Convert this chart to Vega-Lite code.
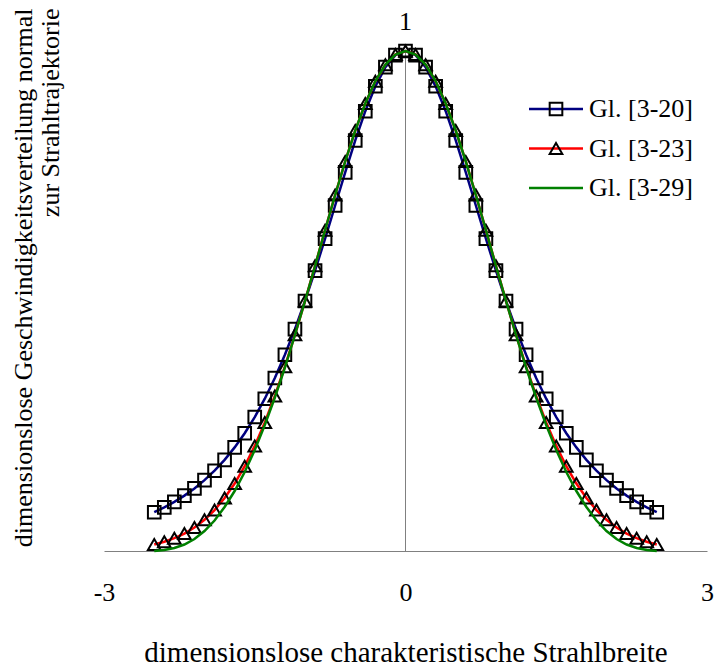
{
  "$schema": "https://vega.github.io/schema/vega-lite/v6.json",
  "width": 603,
  "height": 500,
  "autosize": {"type": "none"},
  "padding": {"left": 104, "top": 51, "right": 10, "bottom": 115},
  "background": "white",
  "config": {"view": {"stroke": null}, "font": "Liberation Serif"},
  "data": {"values": [
    {"x":-2.5,"y":0.0776,"s":"Gl. [3-20]"},{"x":-2.4,"y":0.0872,"s":"Gl. [3-20]"},{"x":-2.3,"y":0.0982,"s":"Gl. [3-20]"},{"x":-2.2,"y":0.1108,"s":"Gl. [3-20]"},{"x":-2.1,"y":0.1252,"s":"Gl. [3-20]"},{"x":-2.0,"y":0.1417,"s":"Gl. [3-20]"},{"x":-1.9,"y":0.1606,"s":"Gl. [3-20]"},{"x":-1.8,"y":0.1823,"s":"Gl. [3-20]"},{"x":-1.7,"y":0.2072,"s":"Gl. [3-20]"},{"x":-1.6,"y":0.2356,"s":"Gl. [3-20]"},{"x":-1.5,"y":0.2679,"s":"Gl. [3-20]"},{"x":-1.4,"y":0.3046,"s":"Gl. [3-20]"},{"x":-1.3,"y":0.3460,"s":"Gl. [3-20]"},{"x":-1.2,"y":0.3924,"s":"Gl. [3-20]"},{"x":-1.1,"y":0.4437,"s":"Gl. [3-20]"},{"x":-1.0,"y":0.5,"s":"Gl. [3-20]"},{"x":-0.9,"y":0.5607,"s":"Gl. [3-20]"},{"x":-0.8,"y":0.6248,"s":"Gl. [3-20]"},{"x":-0.7,"y":0.6910,"s":"Gl. [3-20]"},{"x":-0.6,"y":0.7573,"s":"Gl. [3-20]"},{"x":-0.5,"y":0.8211,"s":"Gl. [3-20]"},{"x":-0.4,"y":0.8796,"s":"Gl. [3-20]"},{"x":-0.3,"y":0.9294,"s":"Gl. [3-20]"},{"x":-0.2,"y":0.9677,"s":"Gl. [3-20]"},{"x":-0.1,"y":0.9918,"s":"Gl. [3-20]"},{"x":0,"y":1,"s":"Gl. [3-20]"},
    {"x":0.1,"y":0.9918,"s":"Gl. [3-20]"},{"x":0.2,"y":0.9677,"s":"Gl. [3-20]"},{"x":0.3,"y":0.9294,"s":"Gl. [3-20]"},{"x":0.4,"y":0.8796,"s":"Gl. [3-20]"},{"x":0.5,"y":0.8211,"s":"Gl. [3-20]"},{"x":0.6,"y":0.7573,"s":"Gl. [3-20]"},{"x":0.7,"y":0.6910,"s":"Gl. [3-20]"},{"x":0.8,"y":0.6248,"s":"Gl. [3-20]"},{"x":0.9,"y":0.5607,"s":"Gl. [3-20]"},{"x":1.0,"y":0.5,"s":"Gl. [3-20]"},{"x":1.1,"y":0.4437,"s":"Gl. [3-20]"},{"x":1.2,"y":0.3924,"s":"Gl. [3-20]"},{"x":1.3,"y":0.3460,"s":"Gl. [3-20]"},{"x":1.4,"y":0.3046,"s":"Gl. [3-20]"},{"x":1.5,"y":0.2679,"s":"Gl. [3-20]"},{"x":1.6,"y":0.2356,"s":"Gl. [3-20]"},{"x":1.7,"y":0.2072,"s":"Gl. [3-20]"},{"x":1.8,"y":0.1823,"s":"Gl. [3-20]"},{"x":1.9,"y":0.1606,"s":"Gl. [3-20]"},{"x":2.0,"y":0.1417,"s":"Gl. [3-20]"},{"x":2.1,"y":0.1252,"s":"Gl. [3-20]"},{"x":2.2,"y":0.1108,"s":"Gl. [3-20]"},{"x":2.3,"y":0.0982,"s":"Gl. [3-20]"},{"x":2.4,"y":0.0872,"s":"Gl. [3-20]"},{"x":2.5,"y":0.0776,"s":"Gl. [3-20]"},
    {"x":-2.5,"y":0.0131,"s":"Gl. [3-23]"},{"x":-2.4,"y":0.0185,"s":"Gl. [3-23]"},{"x":-2.3,"y":0.0256,"s":"Gl. [3-23]"},{"x":-2.2,"y":0.0349,"s":"Gl. [3-23]"},{"x":-2.1,"y":0.0470,"s":"Gl. [3-23]"},{"x":-2.0,"y":0.0625,"s":"Gl. [3-23]"},{"x":-1.9,"y":0.0819,"s":"Gl. [3-23]"},{"x":-1.8,"y":0.1059,"s":"Gl. [3-23]"},{"x":-1.7,"y":0.1349,"s":"Gl. [3-23]"},{"x":-1.6,"y":0.1696,"s":"Gl. [3-23]"},{"x":-1.5,"y":0.2102,"s":"Gl. [3-23]"},{"x":-1.4,"y":0.2571,"s":"Gl. [3-23]"},{"x":-1.3,"y":0.3100,"s":"Gl. [3-23]"},{"x":-1.2,"y":0.3686,"s":"Gl. [3-23]"},{"x":-1.1,"y":0.4323,"s":"Gl. [3-23]"},{"x":-1.0,"y":0.5,"s":"Gl. [3-23]"},{"x":-0.9,"y":0.5704,"s":"Gl. [3-23]"},{"x":-0.8,"y":0.6417,"s":"Gl. [3-23]"},{"x":-0.7,"y":0.7120,"s":"Gl. [3-23]"},{"x":-0.6,"y":0.7792,"s":"Gl. [3-23]"},{"x":-0.5,"y":0.8409,"s":"Gl. [3-23]"},{"x":-0.4,"y":0.8950,"s":"Gl. [3-23]"},{"x":-0.3,"y":0.9395,"s":"Gl. [3-23]"},{"x":-0.2,"y":0.9727,"s":"Gl. [3-23]"},{"x":-0.1,"y":0.9931,"s":"Gl. [3-23]"},{"x":0,"y":1,"s":"Gl. [3-23]"},
    {"x":0.1,"y":0.9931,"s":"Gl. [3-23]"},{"x":0.2,"y":0.9727,"s":"Gl. [3-23]"},{"x":0.3,"y":0.9395,"s":"Gl. [3-23]"},{"x":0.4,"y":0.8950,"s":"Gl. [3-23]"},{"x":0.5,"y":0.8409,"s":"Gl. [3-23]"},{"x":0.6,"y":0.7792,"s":"Gl. [3-23]"},{"x":0.7,"y":0.7120,"s":"Gl. [3-23]"},{"x":0.8,"y":0.6417,"s":"Gl. [3-23]"},{"x":0.9,"y":0.5704,"s":"Gl. [3-23]"},{"x":1.0,"y":0.5,"s":"Gl. [3-23]"},{"x":1.1,"y":0.4323,"s":"Gl. [3-23]"},{"x":1.2,"y":0.3686,"s":"Gl. [3-23]"},{"x":1.3,"y":0.3100,"s":"Gl. [3-23]"},{"x":1.4,"y":0.2571,"s":"Gl. [3-23]"},{"x":1.5,"y":0.2102,"s":"Gl. [3-23]"},{"x":1.6,"y":0.1696,"s":"Gl. [3-23]"},{"x":1.7,"y":0.1349,"s":"Gl. [3-23]"},{"x":1.8,"y":0.1059,"s":"Gl. [3-23]"},{"x":1.9,"y":0.0819,"s":"Gl. [3-23]"},{"x":2.0,"y":0.0625,"s":"Gl. [3-23]"},{"x":2.1,"y":0.0470,"s":"Gl. [3-23]"},{"x":2.2,"y":0.0349,"s":"Gl. [3-23]"},{"x":2.3,"y":0.0256,"s":"Gl. [3-23]"},{"x":2.4,"y":0.0185,"s":"Gl. [3-23]"},{"x":2.5,"y":0.0131,"s":"Gl. [3-23]"},
    {"x":-2.5,"y":0.0,"s":"Gl. [3-29]"},{"x":-2.4,"y":0.002,"s":"Gl. [3-29]"},{"x":-2.3,"y":0.006,"s":"Gl. [3-29]"},{"x":-2.2,"y":0.013,"s":"Gl. [3-29]"},{"x":-2.1,"y":0.024,"s":"Gl. [3-29]"},{"x":-2.0,"y":0.040,"s":"Gl. [3-29]"},{"x":-1.9,"y":0.061,"s":"Gl. [3-29]"},{"x":-1.8,"y":0.088,"s":"Gl. [3-29]"},{"x":-1.7,"y":0.120,"s":"Gl. [3-29]"},{"x":-1.6,"y":0.158,"s":"Gl. [3-29]"},{"x":-1.5,"y":0.202,"s":"Gl. [3-29]"},{"x":-1.4,"y":0.252,"s":"Gl. [3-29]"},{"x":-1.3,"y":0.307,"s":"Gl. [3-29]"},{"x":-1.2,"y":0.367,"s":"Gl. [3-29]"},{"x":-1.1,"y":0.432,"s":"Gl. [3-29]"},{"x":-1.0,"y":0.5,"s":"Gl. [3-29]"},{"x":-0.9,"y":0.570,"s":"Gl. [3-29]"},{"x":-0.8,"y":0.642,"s":"Gl. [3-29]"},{"x":-0.7,"y":0.712,"s":"Gl. [3-29]"},{"x":-0.6,"y":0.779,"s":"Gl. [3-29]"},{"x":-0.5,"y":0.841,"s":"Gl. [3-29]"},{"x":-0.4,"y":0.895,"s":"Gl. [3-29]"},{"x":-0.3,"y":0.940,"s":"Gl. [3-29]"},{"x":-0.2,"y":0.973,"s":"Gl. [3-29]"},{"x":-0.1,"y":0.993,"s":"Gl. [3-29]"},{"x":0,"y":1,"s":"Gl. [3-29]"},
    {"x":0.1,"y":0.993,"s":"Gl. [3-29]"},{"x":0.2,"y":0.973,"s":"Gl. [3-29]"},{"x":0.3,"y":0.940,"s":"Gl. [3-29]"},{"x":0.4,"y":0.895,"s":"Gl. [3-29]"},{"x":0.5,"y":0.841,"s":"Gl. [3-29]"},{"x":0.6,"y":0.779,"s":"Gl. [3-29]"},{"x":0.7,"y":0.712,"s":"Gl. [3-29]"},{"x":0.8,"y":0.642,"s":"Gl. [3-29]"},{"x":0.9,"y":0.570,"s":"Gl. [3-29]"},{"x":1.0,"y":0.5,"s":"Gl. [3-29]"},{"x":1.1,"y":0.432,"s":"Gl. [3-29]"},{"x":1.2,"y":0.367,"s":"Gl. [3-29]"},{"x":1.3,"y":0.307,"s":"Gl. [3-29]"},{"x":1.4,"y":0.252,"s":"Gl. [3-29]"},{"x":1.5,"y":0.202,"s":"Gl. [3-29]"},{"x":1.6,"y":0.158,"s":"Gl. [3-29]"},{"x":1.7,"y":0.120,"s":"Gl. [3-29]"},{"x":1.8,"y":0.088,"s":"Gl. [3-29]"},{"x":1.9,"y":0.061,"s":"Gl. [3-29]"},{"x":2.0,"y":0.040,"s":"Gl. [3-29]"},{"x":2.1,"y":0.024,"s":"Gl. [3-29]"},{"x":2.2,"y":0.013,"s":"Gl. [3-29]"},{"x":2.3,"y":0.006,"s":"Gl. [3-29]"},{"x":2.4,"y":0.002,"s":"Gl. [3-29]"},{"x":2.5,"y":0.0,"s":"Gl. [3-29]"}
  ]},
  "layer": [
    {"data": {"values": [{}]}, "mark": {"type": "rule", "color": "#808080", "strokeWidth": 1},
     "encoding": {
       "x": {"datum": 0, "type": "quantitative",
         "scale": {"domain": [-3, 3], "nice": false, "zero": false},
         "axis": {"values": [-3, 0, 3], "labelExpr": "toString(datum.value)", "ticks": false, "tickSize": 0, "grid": false,
           "domainColor": "#808080", "domainWidth": 1, "labelFontSize": 26, "labelColor": "black", "labelPadding": 28,
           "labelFlush": false, "title": "dimensionslose charakteristische Strahlbreite", "titleFontSize": 29,
           "titleFontWeight": "normal", "titleColor": "black", "titlePadding": 33}},
       "y": {"datum": 0, "type": "quantitative",
         "scale": {"domain": [0, 1], "nice": false},
         "axis": {"labels": false, "ticks": false, "domain": false, "grid": false, "minExtent": 0,
           "title": ["dimensionslose Geschwindigkeitsverteilung normal", "zur Strahltrajektorie"],
           "titleFontSize": 26, "titleFontWeight": "normal", "titleColor": "black", "titleAnchor": "end",
           "titleAlign": "right", "titleBaseline": "bottom", "titleX": -68, "titleY": -43, "titleLineHeight": 27}},
       "y2": {"datum": 1}}},
    {"data": {"values": [{}]}, "mark": {"type": "text", "fontSize": 26, "dy": -29, "align": "center", "baseline": "middle", "color": "black"},
     "encoding": {"x": {"datum": 0, "type": "quantitative"}, "y": {"datum": 1, "type": "quantitative"}, "text": {"value": "1"}}},
    {"transform": [{"filter": {"field": "s", "equal": "Gl. [3-20]"}}],
     "mark": {"type": "line", "strokeWidth": 2.5},
     "encoding": {"x": {"field": "x", "type": "quantitative"}, "y": {"field": "y", "type": "quantitative"},
       "color": {"field": "s", "type": "nominal",
       "scale": {"domain": ["Gl. [3-20]", "Gl. [3-23]", "Gl. [3-29]"], "range": ["#000080", "#ff0000", "#008000"]},
       "legend": {"orient": "none", "legendX": 439, "legendY": 45, "title": null, "padding": 0, "symbolType": "M-4.5,0H4.5",
         "symbolSize": 144, "symbolStrokeWidth": 2.5, "labelFontSize": 26, "labelColor": "black", "labelOffset": 20, "rowPadding": 13.5}}}},
    {"transform": [{"filter": {"field": "s", "equal": "Gl. [3-20]"}}],
     "mark": {"type": "point", "filled": false, "color": "black", "strokeWidth": 2, "size": 160, "opacity": 1},
     "encoding": {"x": {"field": "x", "type": "quantitative"}, "y": {"field": "y", "type": "quantitative"},
       "shape": {"field": "s", "type": "nominal",
       "scale": {"domain": ["Gl. [3-20]", "Gl. [3-23]"], "range": ["square", "triangle-up"]},
       "legend": {"orient": "none", "legendX": 439, "legendY": 45, "title": null, "padding": 0, "symbolSize": 160,
         "symbolStrokeWidth": 2, "symbolStrokeColor": "black", "symbolFillColor": "transparent", "labelFontSize": 26,
         "labelColor": "transparent", "labelOffset": 20, "rowPadding": 13.5}}}},
    {"transform": [{"filter": {"field": "s", "equal": "Gl. [3-23]"}}],
     "mark": {"type": "line", "strokeWidth": 2.5},
     "encoding": {"x": {"field": "x", "type": "quantitative"}, "y": {"field": "y", "type": "quantitative"},
       "color": {"field": "s", "type": "nominal"}}},
    {"transform": [{"filter": {"field": "s", "equal": "Gl. [3-23]"}}],
     "mark": {"type": "point", "filled": false, "color": "black", "strokeWidth": 2, "size": 160, "opacity": 1},
     "encoding": {"x": {"field": "x", "type": "quantitative"}, "y": {"field": "y", "type": "quantitative"},
       "shape": {"field": "s", "type": "nominal"}}},
    {"transform": [{"filter": {"field": "s", "equal": "Gl. [3-29]"}}],
     "mark": {"type": "line", "strokeWidth": 2.5},
     "encoding": {"x": {"field": "x", "type": "quantitative"}, "y": {"field": "y", "type": "quantitative"},
       "color": {"field": "s", "type": "nominal"}}}
  ]
}
